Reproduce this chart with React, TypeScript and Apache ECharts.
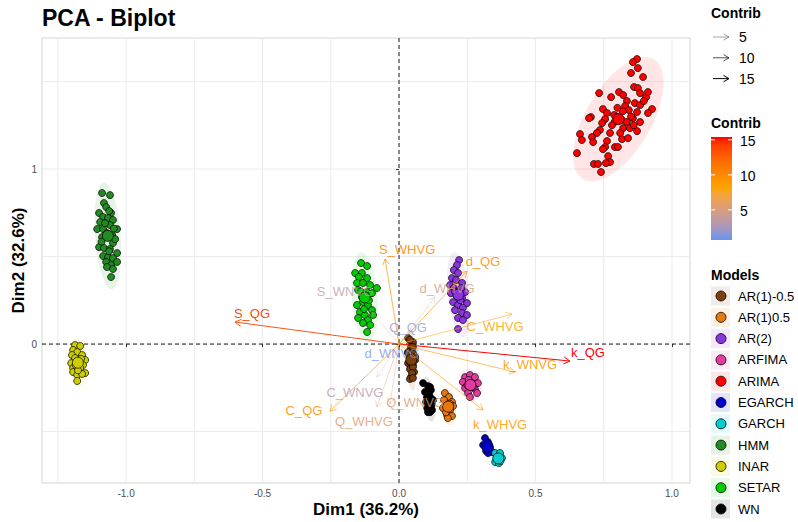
import React, { useEffect, useRef } from "react";
import * as echarts from "echarts";

const FONT = "'Liberation Sans', Arial, Helvetica, sans-serif";

// ---------- data ----------
const modelNames = ["AR(1)-0.5", "AR(1)0.5", "AR(2)", "ARFIMA", "ARIMA", "EGARCH", "GARCH", "HMM", "INAR", "SETAR", "WN"];
const modelColors = ["#7B3F0E", "#E8780C", "#8B35E0", "#E23C9E", "#FF0000", "#0000CD", "#00CDCD", "#228B22", "#CDCD00", "#00CD00", "#000000"];

const pointsAR1m05 = [[0.033,0.034],[0.051,0.011],[0.044,-0.017],[0.033,-0.046],[0.051,-0.051],[0.040,-0.080],[0.059,-0.091],[0.033,-0.109],[0.051,-0.120],[0.040,-0.143],[0.055,-0.160],[0.044,-0.189],[0.040,-0.200],[0.040,0.023],[0.051,-0.017],[0.033,-0.051],[0.059,-0.074],[0.040,-0.103],[0.051,-0.131],[0.048,-0.166],[0.051,-0.194]];
const pointsAR1p05 = [[0.168,-0.280],[0.183,-0.303],[0.165,-0.320],[0.194,-0.331],[0.176,-0.349],[0.198,-0.354],[0.161,-0.366],[0.187,-0.377],[0.176,-0.406],[0.194,-0.411],[0.179,-0.423],[0.185,-0.340],[0.172,-0.390]];
const pointsAR2 = [[0.220,0.480],[0.212,0.451],[0.201,0.423],[0.216,0.406],[0.194,0.377],[0.209,0.366],[0.231,0.349],[0.187,0.337],[0.201,0.320],[0.220,0.309],[0.242,0.297],[0.190,0.291],[0.212,0.274],[0.231,0.263],[0.198,0.240],[0.249,0.234],[0.216,0.223],[0.234,0.206],[0.205,0.194],[0.231,0.177],[0.249,0.166],[0.216,0.149],[0.234,0.137],[0.216,0.086],[0.225,0.250],[0.205,0.300],[0.228,0.320]];
const pointsARFIMA = [[0.242,-0.189],[0.260,-0.177],[0.278,-0.189],[0.234,-0.217],[0.267,-0.223],[0.289,-0.223],[0.242,-0.251],[0.278,-0.257],[0.253,-0.280],[0.286,-0.280],[0.260,-0.303],[0.255,-0.205],[0.270,-0.245],[0.250,-0.235]];
const pointsARIMA = [[0.872,1.629],[0.857,1.611],[0.875,1.577],[0.850,1.549],[0.894,1.526],[0.733,1.434],[0.777,1.411],[0.806,1.440],[0.821,1.423],[0.861,1.469],[0.875,1.463],[0.883,1.434],[0.905,1.411],[0.912,1.440],[0.835,1.389],[0.864,1.377],[0.883,1.366],[0.897,1.389],[0.828,1.360],[0.842,1.337],[0.872,1.326],[0.927,1.343],[0.912,1.320],[0.747,1.343],[0.762,1.320],[0.788,1.309],[0.703,1.297],[0.696,1.291],[0.755,1.286],[0.744,1.263],[0.817,1.280],[0.835,1.269],[0.857,1.291],[0.883,1.269],[0.846,1.234],[0.872,1.217],[0.821,1.234],[0.810,1.206],[0.773,1.206],[0.736,1.223],[0.725,1.206],[0.663,1.200],[0.670,1.166],[0.707,1.183],[0.711,1.154],[0.762,1.160],[0.817,1.171],[0.839,1.177],[0.755,1.126],[0.791,1.126],[0.802,1.126],[0.747,1.114],[0.652,1.091],[0.766,1.074],[0.773,1.040],[0.758,1.034],[0.714,1.029],[0.729,1.029],[0.740,0.983],[0.800,1.300],[0.790,1.270],[0.850,1.300],[0.820,1.330],[0.780,1.250],[0.860,1.250],[0.800,1.350]];
const pointsEGARCH = [[0.315,-0.537],[0.326,-0.560],[0.308,-0.577],[0.333,-0.589],[0.319,-0.611],[0.341,-0.617],[0.326,-0.623],[0.318,-0.595],[0.330,-0.575]];
const pointsGARCH = [[0.352,-0.623],[0.370,-0.623],[0.359,-0.646],[0.377,-0.651],[0.352,-0.674],[0.366,-0.680],[0.362,-0.660],[0.372,-0.668]];
const pointsHMM = [[-1.088,0.863],[-1.059,0.851],[-1.081,0.806],[-1.073,0.783],[-1.099,0.749],[-1.055,0.749],[-1.084,0.726],[-1.066,0.720],[-1.048,0.709],[-1.095,0.697],[-1.059,0.680],[-1.106,0.657],[-1.084,0.657],[-1.033,0.657],[-1.070,0.634],[-1.051,0.623],[-1.088,0.611],[-1.048,0.577],[-1.099,0.554],[-1.081,0.549],[-1.059,0.543],[-1.033,0.520],[-1.084,0.503],[-1.066,0.497],[-1.048,0.491],[-1.073,0.469],[-1.033,0.469],[-1.055,0.451],[-1.070,0.440],[-1.048,0.429],[-1.055,0.383],[-1.062,0.760],[-1.077,0.690],[-1.040,0.600],[-1.090,0.585],[-1.062,0.530],[-1.045,0.660]];
const pointsINAR = [[-1.187,-0.006],[-1.168,-0.011],[-1.194,-0.034],[-1.179,-0.046],[-1.198,-0.063],[-1.161,-0.063],[-1.187,-0.080],[-1.150,-0.091],[-1.201,-0.109],[-1.158,-0.120],[-1.194,-0.137],[-1.168,-0.137],[-1.150,-0.166],[-1.194,-0.160],[-1.179,-0.177],[-1.161,-0.171],[-1.179,-0.211],[-1.172,-0.100],[-1.185,-0.120],[-1.165,-0.085],[-1.176,-0.150]];
const pointsSETAR = [[-0.139,0.463],[-0.117,0.446],[-0.161,0.406],[-0.136,0.406],[-0.147,0.383],[-0.117,0.377],[-0.154,0.349],[-0.132,0.349],[-0.106,0.337],[-0.081,0.320],[-0.150,0.309],[-0.117,0.297],[-0.099,0.291],[-0.136,0.269],[-0.132,0.240],[-0.154,0.223],[-0.114,0.223],[-0.099,0.194],[-0.143,0.183],[-0.125,0.166],[-0.095,0.166],[-0.150,0.149],[-0.114,0.137],[-0.132,0.120],[-0.106,0.109],[-0.117,0.069],[-0.125,0.260],[-0.140,0.300],[-0.110,0.250],[-0.128,0.200]];
const pointsWN = [[0.088,-0.223],[0.106,-0.240],[0.117,-0.263],[0.095,-0.274],[0.106,-0.303],[0.099,-0.331],[0.114,-0.337],[0.103,-0.366],[0.121,-0.377],[0.106,-0.389],[0.125,-0.320],[0.114,-0.246],[0.103,-0.303],[0.121,-0.337],[0.114,-0.389],[0.110,-0.290],[0.118,-0.355]];
const modelPoints = [pointsAR1m05, pointsAR1p05, pointsAR2, pointsARFIMA, pointsARIMA, pointsEGARCH, pointsGARCH, pointsHMM, pointsINAR, pointsSETAR, pointsWN];

const varNames = ["k_QG", "S_QG", "S_WHVG", "d_QG", "C_WHVG", "k_WNVG", "k_WHVG", "C_QG", "Q_WHVG", "Q_WNVG", "C_WNVG", "S_WNVG", "d_WHVG", "Q_QG", "d_WNVG"];
const varX = [0.626, -0.601, -0.051, 0.249, 0.414, 0.425, 0.308, -0.253, -0.081, -0.033, -0.081, -0.099, 0.132, 0.048, 0.018];
const varY = [-0.097, 0.126, 0.486, 0.417, 0.171, -0.160, -0.377, -0.383, -0.360, -0.343, -0.189, 0.183, 0.269, 0.080, -0.017];
const varContrib = [15.4, 14.0, 9.8, 9.5, 8.0, 9.0, 8.8, 9.3, 5.5, 5.0, 3.0, 3.5, 4.5, 1.5, 0.7];

const xTicks = [-1, -0.5, 0, 0.5, 1];
const yTicks = [0, 1];
const xGridLines = [-1.25, -1, -0.75, -0.5, -0.25, 0, 0.25, 0.5, 0.75, 1];
const yGridLines = [-0.5, 0, 0.5, 1, 1.5];
const contribLegendValues = [5, 10, 15];

// ---------- layout / style ----------
const X_MIN = -1.308, X_MAX = 1.066, Y_MIN = -0.794, Y_MAX = 1.749;
const GRID = { left: 42, top: 38, width: 648, height: 445 };
// label offsets (px) relative to arrow tips (repelled labels)
const labelOffsets = [[18, -9], [17, -9], [22, -10], [16, -10], [-17, 12], [15, -8], [17, 14], [-26, -1], [-13, 14], [25, -2], [-22, 15], [-27, -21], [12, -8], [-4, -3], [-12, 6]];

// ---------- colour helpers (Lab interpolation like ggplot) ----------
function hexToRgb(h: string) { const n = parseInt(h.slice(1), 16); return [(n >> 16) & 255, (n >> 8) & 255, n & 255]; }
function s2l(c: number) { c /= 255; return c <= 0.04045 ? c / 12.92 : Math.pow((c + 0.055) / 1.055, 2.4); }
function l2s(c: number) { const v = c <= 0.0031308 ? 12.92 * c : 1.055 * Math.pow(c, 1 / 2.4) - 0.055; return Math.round(Math.max(0, Math.min(1, v)) * 255); }
function rgbToLab(rgb: number[]) {
  const r = s2l(rgb[0]), g = s2l(rgb[1]), b = s2l(rgb[2]);
  const X = (0.4124 * r + 0.3576 * g + 0.1805 * b) / 0.95047;
  const Y = 0.2126 * r + 0.7152 * g + 0.0722 * b;
  const Z = (0.0193 * r + 0.1192 * g + 0.9505 * b) / 1.08883;
  const f = (t: number) => (t > 0.008856 ? Math.cbrt(t) : 7.787 * t + 16 / 116);
  const fx = f(X), fy = f(Y), fz = f(Z);
  return [116 * fy - 16, 500 * (fx - fy), 200 * (fy - fz)];
}
function labToHex(lab: number[]) {
  const fy = (lab[0] + 16) / 116, fx = fy + lab[1] / 500, fz = fy - lab[2] / 200;
  const fi = (t: number) => (t * t * t > 0.008856 ? t * t * t : (t - 16 / 116) / 7.787);
  const X = fi(fx) * 0.95047, Y = fi(fy), Z = fi(fz) * 1.08883;
  const r = 3.2406 * X - 1.5372 * Y - 0.4986 * Z;
  const g = -0.9689 * X + 1.8758 * Y + 0.0415 * Z;
  const b = 0.0557 * X - 0.204 * Y + 1.057 * Z;
  return "#" + [l2s(r), l2s(g), l2s(b)].map((v) => v.toString(16).padStart(2, "0")).join("");
}
const gradStops = ["#6495ED", "#FFA500", "#FF0000"].map((h) => rgbToLab(hexToRgb(h)));
const C_MIN = Math.min(...varContrib), C_MAX = Math.max(...varContrib);
function gradAt(t: number) {
  t = Math.max(0, Math.min(1, t));
  const seg = t < 0.5 ? 0 : 1;
  const u = (t - seg * 0.5) / 0.5;
  const a = gradStops[seg], b = gradStops[seg + 1];
  return labToHex([a[0] + (b[0] - a[0]) * u, a[1] + (b[1] - a[1]) * u, a[2] + (b[2] - a[2]) * u]);
}
const contribT = (c: number) => (c - C_MIN) / (C_MAX - C_MIN);
const arrowAlpha = (c: number) => 0.1 + 0.9 * Math.max(0, Math.min(1, contribT(c)));
const labelAlpha = (c: number) => 0.75 + 0.25 * Math.max(0, Math.min(1, contribT(c)));

function meanOf(pts: number[][]) {
  const n = pts.length;
  return [pts.reduce((s, p) => s + p[0], 0) / n, pts.reduce((s, p) => s + p[1], 0) / n];
}
function ellipseOf(pts: number[][], r = 2.45, steps = 72) {
  const [mx, my] = meanOf(pts);
  const n = pts.length;
  let a = 0, b = 0, c = 0;
  pts.forEach((p) => { a += (p[0] - mx) ** 2; b += (p[0] - mx) * (p[1] - my); c += (p[1] - my) ** 2; });
  a /= n - 1; b /= n - 1; c /= n - 1;
  const tr = (a + c) / 2, d = Math.sqrt(((a - c) / 2) ** 2 + b * b);
  const l1 = tr + d, l2 = Math.max(0, tr - d);
  const th = 0.5 * Math.atan2(2 * b, a - c);
  const out: number[][] = [];
  for (let k = 0; k < steps; k++) {
    const t = (2 * Math.PI * k) / steps;
    const u = r * Math.sqrt(l1) * Math.cos(t), v = r * Math.sqrt(l2) * Math.sin(t);
    out.push([mx + u * Math.cos(th) - v * Math.sin(th), my + u * Math.sin(th) + v * Math.cos(th)]);
  }
  return out;
}

function buildOption() {
  const series: any[] = [];
  // grid lines
  series.push({
    type: "custom", z: 0, silent: true, animation: false,
    data: [...xGridLines.map((v) => [0, v]), ...yGridLines.map((v) => [1, v])],
    encode: { x: -1, y: -1 } as any,
    renderItem: (params: any, api: any) => {
      const kind = api.value(0), v = api.value(1);
      const p1 = kind === 0 ? api.coord([v, Y_MIN]) : api.coord([X_MIN, v]);
      const p2 = kind === 0 ? api.coord([v, Y_MAX]) : api.coord([X_MAX, v]);
      return { type: "line", shape: { x1: p1[0], y1: p1[1], x2: p2[0], y2: p2[1] }, style: { stroke: "#EBEBEB", lineWidth: 1 } };
    },
  });
  // ellipses
  modelPoints.forEach((pts, i) => {
    const ell = ellipseOf(pts);
    series.push({
      type: "custom", z: 1, silent: true, data: [meanOf(pts)],
      renderItem: (params: any, api: any) => ({
        type: "polygon",
        shape: { points: ell.map((p) => api.coord(p)) },
        style: { fill: modelColors[i], opacity: 0.1, stroke: "none" },
      }),
    });
  });
  // zero dashed lines
  series.push({
    type: "custom", z: 2, silent: true, data: [[0, 0], [1, 0]],
    encode: { x: -1, y: -1 } as any,
    renderItem: (params: any, api: any) => {
      const kind = api.value(0);
      const p1 = kind === 0 ? api.coord([0, Y_MIN]) : api.coord([X_MIN, 0]);
      const p2 = kind === 0 ? api.coord([0, Y_MAX]) : api.coord([X_MAX, 0]);
      return { type: "line", shape: { x1: p1[0], y1: p1[1], x2: p2[0], y2: p2[1] }, style: { stroke: "#000", lineWidth: 0.9, lineDash: [4, 3] } };
    },
  });
  // points
  modelPoints.forEach((pts, i) => {
    series.push({
      type: "scatter", name: modelNames[i], z: 3, data: pts, symbol: "circle", symbolSize: 7,
      itemStyle: { color: modelColors[i], borderColor: "#000", borderWidth: 0.7, opacity: 1 },
      emphasis: { disabled: true },
    });
  });
  modelPoints.forEach((pts, i) => {
    series.push({
      type: "scatter", z: 4, data: [meanOf(pts)], symbol: "circle", symbolSize: 11,
      itemStyle: { color: modelColors[i], borderColor: "#000", borderWidth: 0.7, opacity: 1 },
      emphasis: { disabled: true },
    });
  });
  // variable arrows
  series.push({
    type: "custom", z: 6, silent: true,
    data: varNames.map((n, i) => [varX[i], varY[i], i]),
    renderItem: (params: any, api: any) => {
      const i = api.value(2);
      const o = api.coord([0, 0]);
      const t = api.coord([api.value(0), api.value(1)]);
      const ang = Math.atan2(t[1] - o[1], t[0] - o[0]);
      const L = 7, A = Math.PI / 6;
      const p1 = [t[0] - L * Math.cos(ang - A), t[1] - L * Math.sin(ang - A)];
      const p2 = [t[0] - L * Math.cos(ang + A), t[1] - L * Math.sin(ang + A)];
      const c = gradAt(contribT(varContrib[i]));
      const al = arrowAlpha(varContrib[i]);
      const off = labelOffsets[i];
      return {
        type: "group",
        children: [
          { type: "line", shape: { x1: o[0], y1: o[1], x2: t[0], y2: t[1] }, style: { stroke: c, lineWidth: 1, opacity: al } },
          { type: "polyline", shape: { points: [p1, t, p2] }, style: { stroke: c, lineWidth: 1, fill: null, opacity: al } },
          {
            type: "text", x: t[0] + off[0], y: t[1] + off[1],
            style: { text: varNames[i], fill: c, fontSize: 13, fontFamily: FONT, align: "center", verticalAlign: "middle", textAlign: "center", textVerticalAlign: "middle", opacity: labelAlpha(varContrib[i]) },
          },
        ],
      };
    },
  });

  // ---------- legends & titles (graphic) ----------
  const g: any[] = [];
  g.push({ type: "text", left: 42, top: 6, style: { text: "PCA - Biplot", fontSize: 23, fontWeight: "bold", fontFamily: FONT, fill: "#000" } });
  g.push({ type: "text", x: GRID.left + GRID.width / 2, y: 509, style: { text: "Dim1 (36.2%)", fontSize: 17, fontWeight: "bold", fontFamily: FONT, fill: "#000", align: "center", verticalAlign: "middle", textAlign: "center", textVerticalAlign: "middle" } });
  g.push({ type: "text", x: 18, y: GRID.top + GRID.height / 2, rotation: Math.PI / 2, style: { text: "Dim2 (32.6%)", fontSize: 17, fontWeight: "bold", fontFamily: FONT, fill: "#000", align: "center", verticalAlign: "middle", textAlign: "center", textVerticalAlign: "middle" } });

  // arrow alpha legend
  g.push({ type: "text", x: 711, y: 13, style: { text: "Contrib", fontSize: 14, fontWeight: "bold", fontFamily: FONT, fill: "#000", verticalAlign: "middle", textVerticalAlign: "middle" } });
  contribLegendValues.forEach((v, k) => {
    const y = 37 + k * 20.8;
    const al = arrowAlpha(v);
    g.push({ type: "line", shape: { x1: 713, y1: y, x2: 729, y2: y }, style: { stroke: "#000", lineWidth: 1, opacity: al } });
    g.push({ type: "polyline", shape: { points: [[723.5, y - 3.2], [729, y], [723.5, y + 3.2]] }, style: { stroke: "#000", lineWidth: 1, fill: null, opacity: al } });
    g.push({ type: "text", x: 739, y: y, style: { text: String(v), fontSize: 14, fontFamily: FONT, fill: "#000", verticalAlign: "middle", textVerticalAlign: "middle" } });
  });

  // colour bar legend
  g.push({ type: "text", x: 711, y: 123, style: { text: "Contrib", fontSize: 14, fontWeight: "bold", fontFamily: FONT, fill: "#000", verticalAlign: "middle", textVerticalAlign: "middle" } });
  const barTop = 137, barBot = 240, barX = 711, barW = 21;
  const stops: any[] = [];
  for (let k = 0; k <= 24; k++) stops.push({ offset: k / 24, color: gradAt(1 - k / 24) });
  g.push({ type: "rect", shape: { x: barX, y: barTop, width: barW, height: barBot - barTop }, style: { fill: new echarts.graphic.LinearGradient(0, 0, 0, 1, stops) } });
  contribLegendValues.forEach((v) => {
    const y = barBot - ((v - C_MIN) / (C_MAX - C_MIN)) * (barBot - barTop);
    g.push({ type: "line", shape: { x1: barX, y1: y, x2: barX + 4, y2: y }, style: { stroke: "#fff", lineWidth: 1 } });
    g.push({ type: "line", shape: { x1: barX + barW - 4, y1: y, x2: barX + barW, y2: y }, style: { stroke: "#fff", lineWidth: 1 } });
    g.push({ type: "text", x: 740, y: y + 1, style: { text: String(v), fontSize: 14, fontFamily: FONT, fill: "#000", verticalAlign: "middle", textVerticalAlign: "middle" } });
  });

  // models legend
  g.push({ type: "text", x: 711, y: 275, style: { text: "Models", fontSize: 14, fontWeight: "bold", fontFamily: FONT, fill: "#000", verticalAlign: "middle", textVerticalAlign: "middle" } });
  modelNames.forEach((n, i) => {
    const y = 296 + i * 21.3;
    g.push({ type: "rect", shape: { x: 711, y: y - 9.5, width: 19, height: 19 }, style: { fill: modelColors[i], opacity: 0.1 } });
    g.push({ type: "circle", shape: { cx: 721, cy: y, r: 5 }, style: { fill: modelColors[i], stroke: "#000", lineWidth: 0.8 } });
    g.push({ type: "text", x: 738, y: y, style: { text: n, fontSize: 13, fontFamily: FONT, fill: "#000", verticalAlign: "middle", textVerticalAlign: "middle" } });
  });

  return {
    animation: false,
    backgroundColor: "#fff",
    grid: { left: GRID.left, top: GRID.top, width: GRID.width, height: GRID.height, show: true, borderColor: "#D4D4D4", borderWidth: 1, backgroundColor: "transparent" },
    xAxis: {
      type: "value", min: X_MIN, max: X_MAX,
      axisLine: { show: false }, splitLine: { show: false },
      axisTick: { show: true, customValues: xTicks, length: 3, lineStyle: { color: "#333" } },
      axisLabel: { customValues: xTicks, formatter: (v: number) => v.toFixed(1), fontSize: 10, color: "#4D4D4D", fontFamily: FONT, margin: 5 },
    },
    yAxis: {
      type: "value", min: Y_MIN, max: Y_MAX,
      axisLine: { show: false }, splitLine: { show: false },
      axisTick: { show: true, customValues: yTicks, length: 3, lineStyle: { color: "#333" } },
      axisLabel: { customValues: yTicks, formatter: (v: number) => String(v), fontSize: 10, color: "#4D4D4D", fontFamily: FONT, margin: 5 },
    },
    series,
    graphic: g,
  };
}

export default function App() {
  const ref = useRef<HTMLDivElement>(null);
  useEffect(() => {
    document.body.style.margin = "0";
    if (!ref.current) return;
    const chart = echarts.init(ref.current, null, { renderer: "svg" });
    chart.setOption(buildOption() as any);
    return () => chart.dispose();
  }, []);
  return <div ref={ref} style={{ width: 798, height: 522 }} />;
}
